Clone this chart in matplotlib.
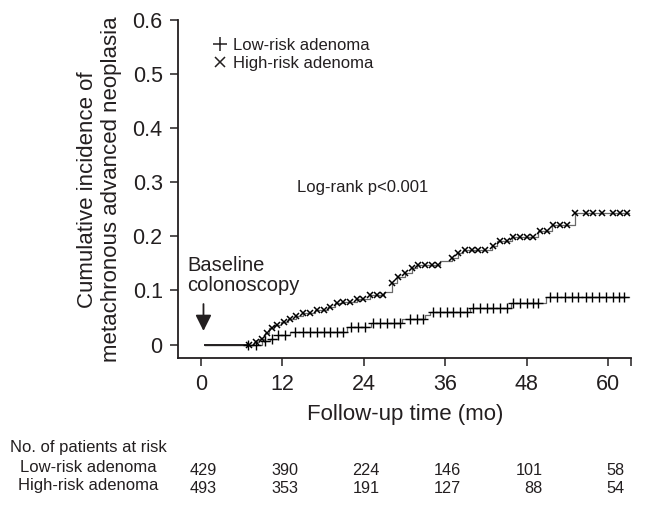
import numpy as np
import matplotlib
matplotlib.use('Agg')
import matplotlib.pyplot as plt
from matplotlib.lines import Line2D
from matplotlib.transforms import blended_transform_factory

plt.rcParams['font.family'] = ['Liberation Sans', 'DejaVu Sans']

# Kaplan-Meier style cumulative incidence, step changes (time in months)
low_t = [0.6, 9.0, 10.2, 11.4, 13.2, 21.6, 25.1, 29.6, 33.0, 33.8, 39.7, 45.7, 50.9, 63.1]
low_y = [0, 0.006, 0.011, 0.017, 0.023, 0.032, 0.039, 0.047, 0.054, 0.061, 0.068, 0.076, 0.087, 0.087]
high_t = [0.6, 7.8, 8.6, 9.4, 10.1, 10.8, 11.8, 12.9, 14.0, 15.0, 16.8, 18.7, 19.8, 21.0, 23.0,
          24.9, 27.0, 28.1, 28.9, 30.1, 31.1, 31.8, 35.2, 37.0, 37.9, 38.6, 42.9, 43.6, 45.8,
          49.7, 51.7, 55.1, 63.1]
high_y = [0, 0.005, 0.011, 0.021, 0.030, 0.036, 0.042, 0.048, 0.053, 0.058, 0.064, 0.070, 0.076, 0.079, 0.085,
          0.092, 0.098, 0.113, 0.124, 0.132, 0.142, 0.148, 0.155, 0.160, 0.169, 0.175, 0.182, 0.191, 0.199,
          0.210, 0.221, 0.244, 0.244]

# censored observations
low_cens = [7.0, 8.2, 9.5, 10.5, 11.4, 12.4, 13.9, 15.1, 16.1, 17.1, 18.1, 19.0, 20.0, 21.0,
            22.2, 23.2, 24.2, 25.4, 26.4, 27.4, 28.4, 29.4, 30.8, 31.8, 32.8,
            34.2, 35.2, 36.3, 37.2, 38.2, 39.2, 40.1, 41.1, 42.2, 43.1, 44.1, 45.1,
            46.0, 47.0, 48.0, 49.0, 49.7, 51.4, 52.5, 53.7, 54.7, 55.6, 56.7, 57.7,
            58.6, 59.7, 60.7, 61.6, 62.3]
high_cens = [7.1, 8.2, 9.0, 9.7, 10.5, 11.2, 12.2, 13.2, 14.1, 15.1, 16.1, 17.1, 18.1, 19.0, 20.0,
             21.0, 22.0, 23.0, 23.9, 24.9, 25.9, 26.9, 28.1, 29.1, 30.1, 31.1, 32.0, 33.0, 34.0,
             35.0, 37.0, 37.9, 38.9, 39.9, 40.9, 41.9, 43.1, 44.1, 45.1, 46.0, 47.0, 48.0,
             49.0, 50.0, 51.0, 51.9, 52.9, 53.9, 55.1, 56.8, 57.8, 59.1, 60.8, 61.7, 62.8]

risk_times = [0, 12, 24, 36, 48, 60]
risk_low = [429, 390, 224, 146, 101, 58]
risk_high = [493, 353, 191, 127, 88, 54]

txt = '#231f20'
line_c = '#6a6a6a'


def step_value(times, vals, t):
    i = np.searchsorted(times, t, side='right') - 1
    return np.asarray(vals)[i]


fig = plt.figure(figsize=(6.45, 5.05), dpi=100)
ax = fig.add_axes([0.276, 0.2905, 0.703, 0.6695])

ax.step(low_t, low_y, where='post', color=line_c, lw=0.9)
ax.step(high_t, high_y, where='post', color=line_c, lw=0.9)
ax.plot([0.6, 7.0], [0, 0], color=txt, lw=1.4)
ax.plot(low_cens, step_value(low_t, low_y, low_cens), ls='none', marker='+',
        ms=7, mew=1.0, color='black')
ax.plot(high_cens, step_value(high_t, high_y, high_cens), ls='none', marker='x',
        ms=4.5, mew=1.1, color='black')

ax.set_xlim(-3.35, 63.45)
ax.set_ylim(-0.0255, 0.6)
ax.set_xticks(risk_times)
ax.set_xticks([63.45], minor=True)
ax.set_yticks([0, 0.1, 0.2, 0.3, 0.4, 0.5, 0.6])
ax.set_yticklabels(['0', '0.1', '0.2', '0.3', '0.4', '0.5', '0.6'])
for s in ['top', 'right']:
    ax.spines[s].set_visible(False)
for s in ['left', 'bottom']:
    ax.spines[s].set_color(txt)
    ax.spines[s].set_linewidth(1.3)
ax.spines['left'].set_bounds(-0.0255, 0.6)
ax.tick_params(axis='both', which='both', direction='out', length=6, width=1.1,
               color=txt, labelcolor=txt, labelsize=15.5, pad=5)

ax.set_xlabel('Follow-up time (mo)', fontsize=16, color=txt, labelpad=7)
ax.set_ylabel('Cumulative incidence of\nmetachronous advanced neoplasia',
              fontsize=16, color=txt, labelpad=8, linespacing=1.15)

ax.text(14.2, 0.291, 'Log-rank p<0.001', fontsize=12, color=txt, va='center')
ax.text(-2.0, 0.163, 'Baseline\ncolonoscopy', fontsize=14.5, color=txt, va='top',
        linespacing=1.05)
ax.annotate('', xy=(0.4, 0.02), xytext=(0.4, 0.08),
            arrowprops=dict(arrowstyle='-|>', color=txt, lw=1.3, mutation_scale=24))

handles = [Line2D([], [], ls='none', marker='+', ms=10, mew=1.1, color=txt),
           Line2D([], [], ls='none', marker='x', ms=7, mew=1.1, color=txt)]
leg = ax.legend(handles, ['Low-risk adenoma', 'High-risk adenoma'], loc='upper left',
                bbox_to_anchor=(0.06, 0.972), frameon=False, fontsize=12,
                handlelength=0.8, handletextpad=0.35, labelspacing=0.15, borderpad=0)
for t in leg.get_texts():
    t.set_color(txt)

# numbers at risk table
tr = blended_transform_factory(ax.transData, fig.transFigure)
fig.text(0.137, 0.113, 'No. of patients at risk', fontsize=12, color=txt, ha='center', va='center')
fig.text(0.137, 0.075, 'Low-risk adenoma', fontsize=12, color=txt, ha='center', va='center')
fig.text(0.137, 0.039, 'High-risk adenoma', fontsize=12, color=txt, ha='center', va='center')
for t, a, b in zip(risk_times, risk_low, risk_high):
    ax.text(t + 2.4, 0.069, str(a), transform=tr, fontsize=11.7, color=txt, ha='right', va='center')
    ax.text(t + 2.4, 0.032, str(b), transform=tr, fontsize=11.7, color=txt, ha='right', va='center')

fig.savefig('out.png', dpi=100)
